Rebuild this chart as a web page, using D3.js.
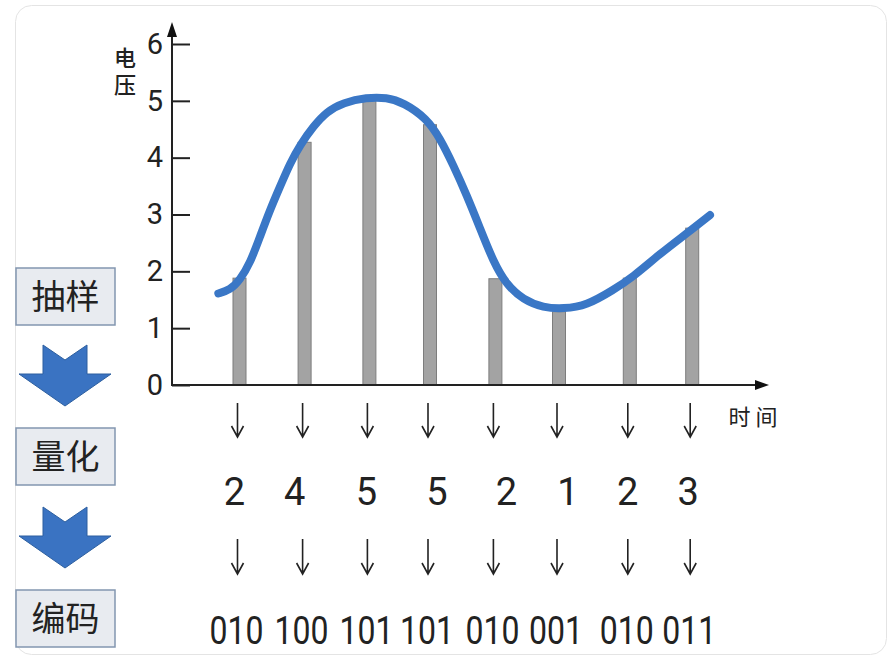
<!DOCTYPE html>
<html><head><meta charset="utf-8">
<script src="https://cdn.jsdelivr.net/npm/d3@7"></script>
<style>body{margin:0;background:#fff;}svg{display:block;}</style>
</head><body>
<svg id="c" width="890" height="667"></svg>
<script>
// ---- data ----
const yTicks = [0, 1, 2, 3, 4, 5, 6];
const sampleTimes = [11.25, 22.1, 32.9, 43.0, 53.9, 64.5, 76.3, 86.7];
const sampleValues = [1.88, 4.27, 5.02, 4.58, 1.87, 1.29, 1.88, 2.76];
const quantized = [2, 4, 5, 5, 2, 1, 2, 3];
const codes = ["010", "100", "101", "101", "010", "001", "010", "011"];
const curveT = [7.72, 9.67, 11.33, 13.0, 14.67, 16.33, 18.0, 19.67, 21.33, 23.55, 25.78, 28.55, 32.45, 35.78, 38.6, 42.45, 44.67, 46.88, 49.12, 51.33, 53.55, 55.78, 58.55, 61.88, 65.22, 69.12, 73.5, 76.83, 81.33, 85.83, 89.67];
const curveV = [1.61, 1.67, 1.85, 2.14, 2.61, 3.08, 3.49, 3.90, 4.22, 4.55, 4.81, 4.97, 5.06, 5.06, 4.97, 4.69, 4.34, 3.87, 3.34, 2.76, 2.17, 1.76, 1.50, 1.36, 1.34, 1.40, 1.67, 1.90, 2.31, 2.67, 2.99];
const steps = ["抽样", "量化", "编码"];
const yAxisTitle = "电压";
const xAxisTitle = "时 间";

const svg = d3.select("#c");
const x = d3.scaleLinear().domain([0, 100]).range([172, 772]);
const y = d3.scaleLinear().domain([0, 6]).range([385, 44]);

// card frame
svg.append("rect").attr("x", 15.5).attr("y", 5.5).attr("width", 871).attr("height", 649)
  .attr("rx", 16).attr("fill", "#fff").attr("stroke", "#e4e4e4").attr("stroke-width", 1);

// bars
svg.append("g").selectAll("rect").data(sampleValues).join("rect")
  .attr("x", (d, i) => x(sampleTimes[i]) - 6.5)
  .attr("width", 13)
  .attr("y", d => y(d))
  .attr("height", d => y(0) - y(d))
  .attr("fill", "#a3a3a3").attr("stroke", "#7d7d7d").attr("stroke-width", 1);

// y axis (ticks into the plot)
const ya = svg.append("g").attr("transform", `translate(${x(0)},0)`)
  .call(d3.axisLeft(y).tickValues(yTicks).tickSize(-18).tickPadding(9).tickFormat(d3.format("d")));
ya.select(".domain").remove();
ya.selectAll(".tick line").attr("stroke", "#222").attr("stroke-width", 2);
ya.selectAll(".tick text").attr("font-family", "Roboto").attr("font-size", 29).attr("fill", "#222");

// axis lines with arrows
const ax = svg.append("g").attr("stroke", "#222").attr("stroke-width", 2).attr("fill", "none");
ax.append("line").attr("x1", x(0)).attr("y1", y(0)).attr("x2", x(0)).attr("y2", 30);
ax.append("line").attr("x1", x(0) - 1).attr("y1", y(0)).attr("x2", 760).attr("y2", y(0));
svg.append("path").attr("d", `M${x(0)},22 L${x(0) - 5},37 L${x(0) + 5},37 Z`).attr("fill", "#111");
svg.append("path").attr("d", `M769,${y(0)} L755,${y(0) - 5} L755,${y(0) + 5} Z`).attr("fill", "#111");

// curve
const line = d3.line().x(d => x(d[0])).y(d => y(d[1])).curve(d3.curveBasis);
svg.append("path").datum(curveT.map((t, i) => [t, curveV[i]]))
  .attr("d", line).attr("fill", "none").attr("stroke", "#3a77c6")
  .attr("stroke-width", 8).attr("stroke-linecap", "round");

// axis titles
svg.append("text").attr("x", 125).attr("y", 47)
  .attr("font-family", "Noto Sans CJK SC").attr("font-weight", 500).attr("font-size", 22)
  .attr("fill", "#222").style("writing-mode", "vertical-rl").attr("letter-spacing", 5)
  .text(yAxisTitle);
svg.append("text").attr("x", 753).attr("y", 425).attr("text-anchor", "middle")
  .attr("font-family", "Noto Sans CJK SC").attr("font-size", 22).attr("fill", "#222")
  .attr("xml:space", "preserve").text(xAxisTitle);

// down arrows
function arrows(y0, y1) {
  const g = svg.append("g").attr("stroke", "#222").attr("stroke-width", 1.6).attr("fill", "none");
  g.selectAll("path").data(sampleTimes).join("path")
    .attr("d", t => { const cx = x(t) - 2; return `M${cx},${y0} L${cx},${y1} M${cx - 6},${y1 - 11} L${cx},${y1} L${cx + 6},${y1 - 11}`; });
}
arrows(403, 437);
arrows(539, 574);

// quantized values (small per-column layout nudges as in the original figure)
const quantNudge = [-2, -7, 0, 10, 14, 12, 1, -1];
svg.append("g").selectAll("text").data(quantized).join("text")
  .attr("x", (d, i) => x(sampleTimes[i]) - 3 + quantNudge[i]).attr("y", 505)
  .attr("text-anchor", "middle").attr("font-family", "Roboto").attr("font-size", 38).attr("fill", "#222")
  .text(d => d);

// codes
svg.append("g").selectAll("text").data(codes).join("text")
  .attr("x", (d, i) => x(sampleTimes[i]) - 3).attr("y", 644)
  .attr("text-anchor", "middle").attr("font-family", "Roboto").attr("font-size", 38).attr("fill", "#222")
  .attr("textLength", 54).attr("lengthAdjust", "spacingAndGlyphs")
  .text(d => d);

// left process boxes
const boxY = [268, 428, 590];
const bg = svg.append("g");
steps.forEach((s, i) => {
  bg.append("rect").attr("x", 16).attr("y", boxY[i]).attr("width", 99).attr("height", 57)
    .attr("fill", "#e8ebf0").attr("stroke", "#8396b0").attr("stroke-width", 1.5);
  bg.append("text").attr("x", 65.5).attr("y", boxY[i] + 29).attr("dy", "0.36em")
    .attr("text-anchor", "middle").attr("font-family", "Noto Sans CJK SC").attr("font-size", 34)
    .attr("fill", "#222").text(s);
});
// blue block arrows
[345, 507].forEach(t => {
  bg.append("path")
    .attr("d", `M43,${t} L65,${t + 15} L87,${t} L87,${t + 29} L111,${t + 29} L65,${t + 61} L19,${t + 29} L43,${t + 29} Z`)
    .attr("fill", "#3a73c2").attr("stroke", "#2d5f9f").attr("stroke-width", 1);
});
</script>
</body></html>
